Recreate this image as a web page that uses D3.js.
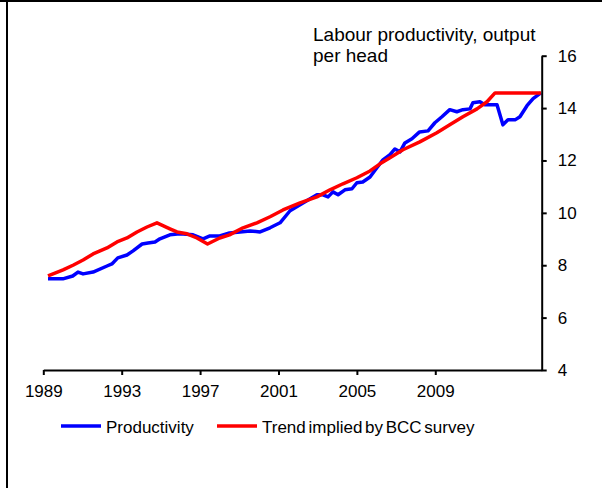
<!DOCTYPE html>
<html lang="en">
<head>
    <meta charset="UTF-8">
    <title>Labour productivity, output per head</title>
    <script src="https://d3js.org/d3.v7.min.js"></script>
    <style>
        body {
            margin: 0;
            overflow: hidden;
            background-color: #fff;
            font-family: "Liberation Sans", Arial, sans-serif;
        }
        .axis text {
            font-family: "Liberation Sans", Arial, sans-serif;
            font-size: 17px;
            fill: #000;
        }
        .axis path, .axis line {
            stroke: #000;
            stroke-width: 2px;
        }
        .series {
            fill: none;
            stroke-width: 3.5px;
            stroke-linejoin: round;
        }
    </style>
</head>
<body>
    <svg width="602" height="488"></svg>
    <script>
        // year positions as read against the axis labels
        const prodYears = [1989.24, 1990.0, 1990.5, 1990.77, 1991.03, 1991.54, 1992.25, 1992.5, 1992.8, 1993.27,
            1993.58, 1994.04, 1994.34, 1994.7, 1994.95, 1995.46, 1995.97, 1996.64, 1997.15, 1997.5,
            1998.0, 1998.5, 1999.04, 1999.55, 2000.06, 2000.57, 2001.08, 2001.59, 2002.25, 2002.96,
            2003.27, 2003.53, 2003.78, 2004.04, 2004.39, 2004.75, 2005.0, 2005.3, 2005.67, 2006.02,
            2006.33, 2006.69, 2006.94, 2007.2, 2007.45, 2007.81, 2008.2, 2008.63, 2008.98, 2009.34,
            2009.74, 2010.1, 2010.41, 2010.77, 2010.92, 2011.28, 2011.53, 2012.15, 2012.45, 2012.71,
            2013.07, 2013.32, 2013.68, 2013.99, 2014.39];
        const productivity = [7.48, 7.48, 7.59, 7.74, 7.67, 7.74, 7.97, 8.05, 8.28, 8.39,
            8.55, 8.81, 8.85, 8.89, 9.01, 9.16, 9.20, 9.16, 9.01, 9.12,
            9.12, 9.23, 9.27, 9.31, 9.27, 9.43, 9.62, 10.08, 10.38, 10.69,
            10.69, 10.61, 10.80, 10.69, 10.88, 10.92, 11.15, 11.18, 11.37, 11.72,
            12.02, 12.22, 12.44, 12.33, 12.67, 12.83, 13.09, 13.13, 13.44, 13.67,
            13.94, 13.86, 13.94, 13.97, 14.20, 14.24, 14.13, 14.13, 13.36, 13.55,
            13.55, 13.67, 14.09, 14.36, 14.58];

        const trendYears = [1989.24, 1990.01, 1990.54, 1991.03, 1991.54, 1992.25, 1992.76, 1993.27, 1993.78, 1994.29,
            1994.8, 1995.46, 1995.82, 1996.33, 1996.84, 1997.38, 1998.0, 1998.5, 1999.19, 1999.9,
            2000.57, 2001.23, 2002.1, 2002.96, 2003.63, 2004.29, 2005.0, 2005.67, 2006.18, 2006.69,
            2007.35, 2008.21, 2009.08, 2009.74, 2010.41, 2011.13, 2011.64, 2012.05, 2014.39];
        const trend = [7.59, 7.82, 8.01, 8.20, 8.43, 8.66, 8.89, 9.04, 9.27, 9.46,
            9.62, 9.39, 9.27, 9.20, 9.04, 8.81, 9.04, 9.16, 9.43, 9.62,
            9.85, 10.11, 10.38, 10.61, 10.88, 11.11, 11.34, 11.60, 11.87, 12.10,
            12.41, 12.71, 13.06, 13.36, 13.67, 13.97, 14.24, 14.58, 14.58];

        const xTicks = [1989, 1993, 1997, 2001, 2005, 2009];
        const yTicks = [4, 6, 8, 10, 12, 14, 16];

        const svg = d3.select("svg");

        const x = d3.scaleLinear().domain([1989, 2014.43]).range([43.3, 541.7]);
        const y = d3.scaleLinear().domain([4, 16]).range([370, 55.7]);

        // frame
        svg.append("line").attr("x1", 0).attr("x2", 602).attr("y1", 1).attr("y2", 1)
            .attr("stroke", "#000").attr("stroke-width", 2);
        svg.append("line").attr("x1", 7).attr("x2", 7).attr("y1", 0).attr("y2", 488)
            .attr("stroke", "#000").attr("stroke-width", 2);

        const line = d3.line()
            .x(d => x(d[0]))
            .y(d => y(d[1]));

        svg.append("path")
            .datum(d3.zip(prodYears, productivity))
            .attr("class", "series")
            .attr("stroke", "#0000ff")
            .attr("d", line);

        svg.append("path")
            .datum(d3.zip(trendYears, trend))
            .attr("class", "series")
            .attr("stroke", "#ff0000")
            .attr("d", line);

        // axes
        svg.append("g")
            .attr("class", "axis")
            .attr("transform", "translate(0,370)")
            .call(d3.axisBottom(x).tickValues(xTicks).tickFormat(d3.format("d"))
                .tickSize(5).tickSizeOuter(0).tickPadding(10));

        svg.append("g")
            .attr("class", "axis")
            .attr("transform", "translate(541.7,0)")
            .call(d3.axisRight(y).tickValues(yTicks).tickSize(5).tickSizeOuter(0).tickPadding(11));

        // title
        const title = svg.append("text")
            .attr("x", 313)
            .attr("y", 40.5)
            .style("font-size", "19px")
            .style("fill", "#000");
        title.append("tspan").attr("x", 313).text("Labour productivity, output");
        title.append("tspan").attr("x", 313).attr("dy", 21.5).text("per head");

        // legend
        const legend = [
            { name: "Productivity", color: "#0000ff", x: 61 },
            { name: "Trend implied by BCC survey", color: "#ff0000", x: 217 }
        ];
        const lg = svg.append("g").selectAll("g")
            .data(legend)
            .enter().append("g")
            .attr("transform", d => `translate(${d.x},426)`);
        lg.append("line")
            .attr("x1", 0).attr("x2", 40)
            .attr("stroke", d => d.color)
            .attr("stroke-width", 3.5);
        lg.append("text")
            .attr("x", 45)
            .attr("y", 7)
            .style("font-size", "17px")
            .style("word-spacing", "-2px")
            .text(d => d.name);
    </script>
</body>
</html>
